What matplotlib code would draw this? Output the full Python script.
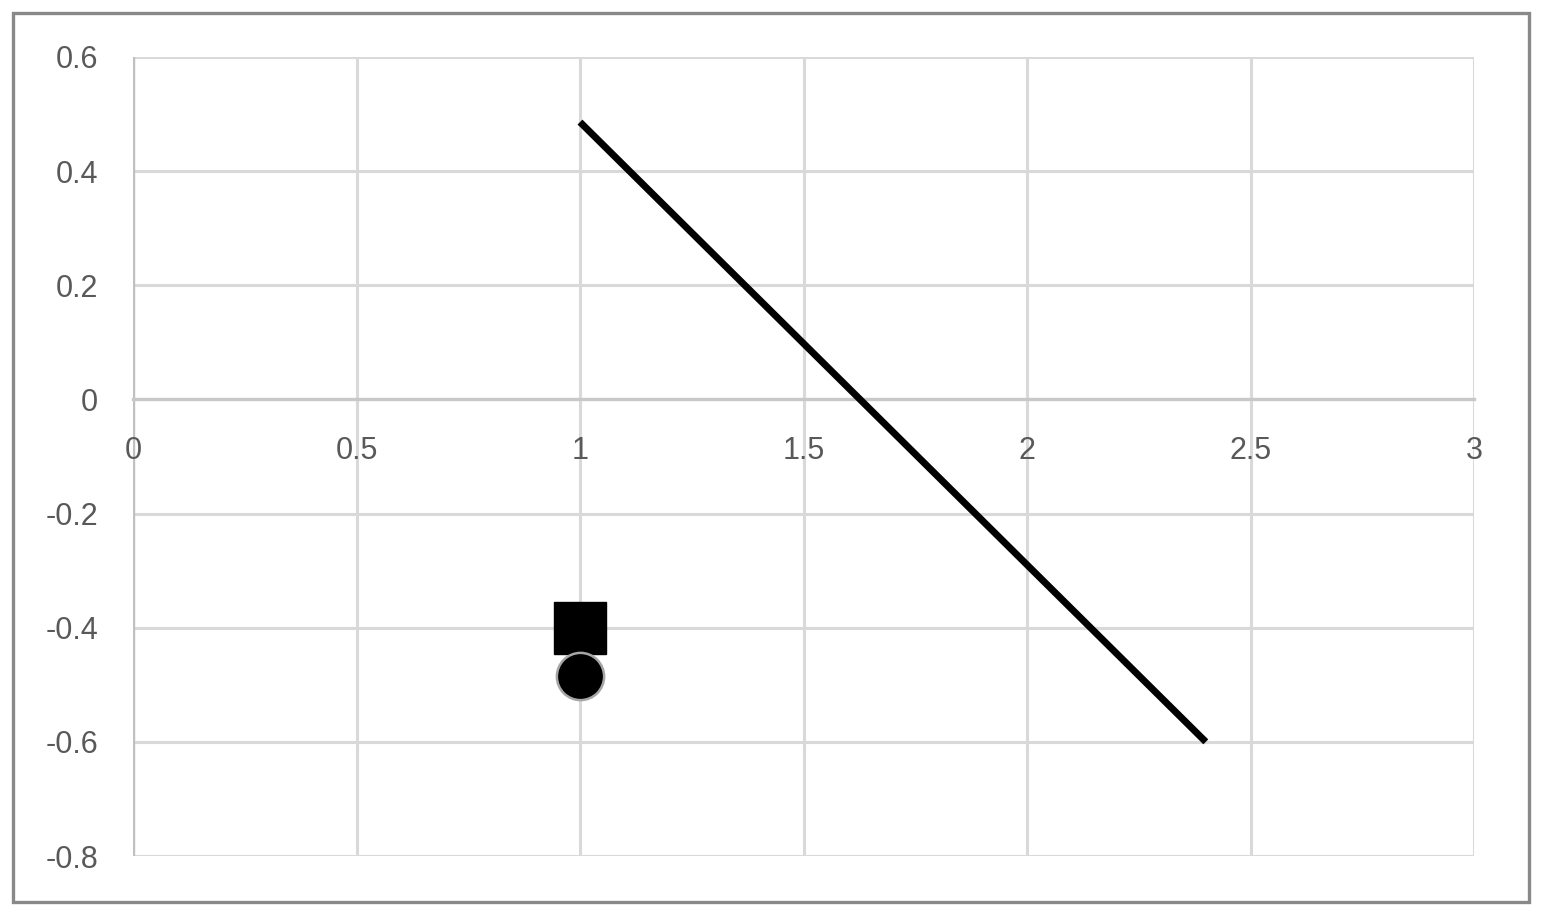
import matplotlib.pyplot as plt
from matplotlib.patches import Rectangle

plt.rcParams['font.family'] = ['Liberation Sans', 'DejaVu Sans']
plt.rcParams['axes.unicode_minus'] = False

# 数据
line_x = [1, 2.4]
line_y = [0.486, -0.6]
square_x = [1]
square_y = [-0.4]
circle_x = [1]
circle_y = [-0.485]

x_ticks = [0, 0.5, 1, 1.5, 2, 2.5, 3]
x_labels = ['0', '0.5', '1', '1.5', '2', '2.5', '3']
y_ticks = [0.6, 0.4, 0.2, 0, -0.2, -0.4, -0.6, -0.8]
y_labels = ['0.6', '0.4', '0.2', '0', '-0.2', '-0.4', '-0.6', '-0.8']

fig = plt.figure(figsize=(15.41, 9.15), dpi=100)
ax = fig.add_axes([133 / 1541, 1 - 856 / 915, (1474 - 133) / 1541, (856 - 57) / 915])

ax.set_xlim(0, 3)
ax.set_ylim(-0.8, 0.6)

# 网格线
for x in x_ticks:
    ax.axvline(x, color='#d9d9d9', lw=2.2, zorder=0)
for y in y_ticks:
    ax.axhline(y, color='#d9d9d9', lw=2.2, zorder=0)
ax.axvline(0, color='#c0c0c0', lw=2.4, zorder=1)

for s in ['top', 'right', 'left']:
    ax.spines[s].set_visible(False)
ax.spines['bottom'].set_position(('data', 0))
ax.spines['bottom'].set_color('#c8c8c8')
ax.spines['bottom'].set_linewidth(2.4)

ax.set_xticks(x_ticks)
ax.set_xticklabels(x_labels)
ax.set_yticks(y_ticks)
ax.set_yticklabels(y_labels)
ax.tick_params(axis='x', length=0, pad=26, labelsize=22, labelcolor='#595959')
ax.tick_params(axis='y', length=0, pad=25, labelsize=22, labelcolor='#595959')

# 直线与标记
ax.plot(line_x, line_y, color='black', lw=5, solid_capstyle='butt', zorder=3)
ax.plot(square_x, square_y, marker='s', ms=37, color='black', ls='none', zorder=4)
ax.plot(circle_x, circle_y, marker='o', ms=34, markerfacecolor='black',
        markeredgecolor='#a6a6a6', markeredgewidth=1.8, ls='none', zorder=4)

# 外框
fig.patches.append(Rectangle((13 / 1541, 13 / 915), (1529 - 13) / 1541, (902 - 13) / 915,
                             transform=fig.transFigure, fill=False,
                             edgecolor='#898989', lw=2.4))

plt.savefig('out.png', dpi=100)
